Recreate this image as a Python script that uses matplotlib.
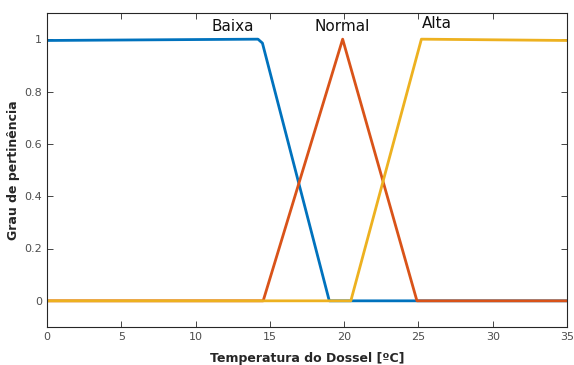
import matplotlib.pyplot as plt

# membership functions
baixa_x = [0, 14.2, 14.5, 19.0, 35]
baixa_y = [0.995, 1.0, 0.985, 0.0, 0.0]
normal_x = [0, 14.55, 19.9, 24.9, 35]
normal_y = [0.0, 0.0, 1.0, 0.0, 0.0]
alta_x = [0, 20.45, 25.2, 35]
alta_y = [0.0, 0.0, 1.0, 0.995]

labels = ['Baixa', 'Normal', 'Alta']
xticks = [0, 5, 10, 15, 20, 25, 30, 35]
yticks = [0, 0.2, 0.4, 0.6, 0.8, 1]
ytick_labels = ['0', '0.2', '0.4', '0.6', '0.8', '1']

fig = plt.figure(figsize=(5.74, 3.65), dpi=100)
ax = fig.add_axes([47/574, 1 - 327/365, 520/574, 314/365])

ax.plot(baixa_x, baixa_y, color='#0072BD', lw=2)
ax.plot(normal_x, normal_y, color='#D95319', lw=2)
ax.plot(alta_x, alta_y, color='#EDB120', lw=2)

# text labels over each curve
ax.text(12.5, 1.02, labels[0], ha='center', va='bottom', fontsize=11, color='#111111')
ax.text(19.9, 1.02, labels[1], ha='center', va='bottom', fontsize=11, color='#111111')
ax.text(25.2, 1.03, labels[2], ha='left', va='bottom', fontsize=11, color='#111111')

ax.set_xlim(0, 35)
ax.set_ylim(-0.1, 1.1)
ax.set_xticks(xticks)
ax.set_yticks(yticks)
ax.set_yticklabels(ytick_labels)
ax.tick_params(direction='in', top=True, right=True, labelsize=8,
               colors='#262626', labelcolor='#4d4d4d', length=4, width=0.6)
for s in ax.spines.values():
    s.set_color('#262626')
    s.set_linewidth(0.8)

ax.set_xlabel('Temperatura do Dossel [ºC]', fontsize=9, fontweight='bold', color='#262626', labelpad=7)
ax.set_ylabel('Grau de pertinência', fontsize=9, fontweight='bold', color='#262626', labelpad=3)

fig.savefig('out.png', dpi=100)
